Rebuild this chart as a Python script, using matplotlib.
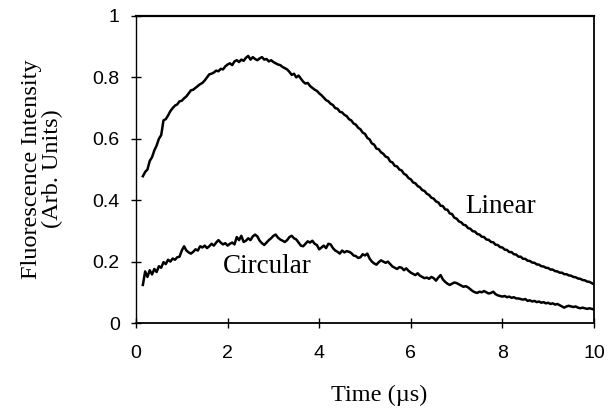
import numpy as np
import matplotlib
matplotlib.use("Agg")
import matplotlib.pyplot as plt

# Sampling grid (µs), 0.05 µs steps from 0.15 to 10.0
time_us = np.round(np.arange(0.15, 10.0001, 0.05), 2)

linear = [
    0.478, 0.492, 0.500, 0.528, 0.540, 0.562, 0.578, 0.600, 0.612, 0.660,
    0.664, 0.676, 0.690, 0.700, 0.708, 0.712, 0.722, 0.724, 0.732, 0.738,
    0.748, 0.758, 0.760, 0.766, 0.772, 0.778, 0.782, 0.790, 0.800, 0.810,
    0.812, 0.816, 0.822, 0.820, 0.828, 0.826, 0.836, 0.842, 0.846, 0.840,
    0.852, 0.856, 0.850, 0.858, 0.854, 0.864, 0.870, 0.858, 0.866, 0.860,
    0.856, 0.862, 0.866, 0.858, 0.860, 0.852, 0.856, 0.850, 0.846, 0.842,
    0.840, 0.834, 0.830, 0.826, 0.818, 0.808, 0.812, 0.800, 0.806, 0.796,
    0.786, 0.780, 0.782, 0.772, 0.766, 0.760, 0.756, 0.748, 0.742, 0.734,
    0.726, 0.722, 0.714, 0.710, 0.700, 0.698, 0.688, 0.686, 0.678, 0.674,
    0.664, 0.660, 0.650, 0.646, 0.636, 0.631, 0.620, 0.616, 0.603, 0.598,
    0.585, 0.581, 0.568, 0.566, 0.556, 0.551, 0.542, 0.539, 0.526, 0.523,
    0.512, 0.510, 0.500, 0.497, 0.486, 0.482, 0.472, 0.468, 0.458, 0.455,
    0.446, 0.442, 0.433, 0.430, 0.421, 0.417, 0.408, 0.405, 0.396, 0.393,
    0.382, 0.381, 0.370, 0.369, 0.357, 0.355, 0.343, 0.340, 0.331, 0.328,
    0.320, 0.318, 0.309, 0.307, 0.299, 0.298, 0.290, 0.288, 0.281, 0.280,
    0.272, 0.271, 0.264, 0.263, 0.255, 0.254, 0.247, 0.246, 0.239, 0.238,
    0.231, 0.231, 0.224, 0.223, 0.216, 0.216, 0.209, 0.209, 0.203, 0.202,
    0.197, 0.196, 0.191, 0.190, 0.185, 0.184, 0.180, 0.179, 0.174, 0.174,
    0.169, 0.168, 0.164, 0.164, 0.159, 0.159, 0.155, 0.154, 0.150, 0.149,
    0.145, 0.144, 0.140, 0.139, 0.135, 0.134, 0.130, 0.126,
]

circular = [
    0.124, 0.168, 0.150, 0.172, 0.158, 0.176, 0.166, 0.185, 0.180, 0.198,
    0.192, 0.206, 0.200, 0.210, 0.206, 0.214, 0.216, 0.236, 0.250, 0.236,
    0.230, 0.226, 0.232, 0.240, 0.236, 0.250, 0.246, 0.252, 0.244, 0.250,
    0.258, 0.252, 0.262, 0.270, 0.262, 0.256, 0.260, 0.252, 0.258, 0.262,
    0.256, 0.280, 0.270, 0.284, 0.264, 0.268, 0.276, 0.270, 0.282, 0.288,
    0.282, 0.268, 0.260, 0.254, 0.262, 0.270, 0.276, 0.284, 0.288, 0.278,
    0.272, 0.268, 0.264, 0.270, 0.280, 0.284, 0.276, 0.272, 0.262, 0.252,
    0.250, 0.258, 0.266, 0.262, 0.268, 0.258, 0.254, 0.240, 0.246, 0.252,
    0.244, 0.258, 0.256, 0.244, 0.236, 0.232, 0.226, 0.236, 0.230, 0.234,
    0.232, 0.228, 0.220, 0.218, 0.212, 0.214, 0.224, 0.220, 0.226, 0.210,
    0.200, 0.194, 0.190, 0.198, 0.204, 0.200, 0.196, 0.200, 0.192, 0.184,
    0.180, 0.176, 0.182, 0.180, 0.172, 0.178, 0.170, 0.164, 0.160, 0.156,
    0.162, 0.154, 0.150, 0.146, 0.148, 0.144, 0.150, 0.146, 0.138, 0.148,
    0.156, 0.142, 0.134, 0.128, 0.124, 0.128, 0.132, 0.130, 0.126, 0.122,
    0.118, 0.120, 0.116, 0.110, 0.104, 0.100, 0.098, 0.102, 0.100, 0.104,
    0.100, 0.096, 0.098, 0.102, 0.094, 0.090, 0.088, 0.086, 0.088, 0.084,
    0.086, 0.082, 0.084, 0.080, 0.080, 0.078, 0.076, 0.078, 0.072, 0.074,
    0.070, 0.072, 0.068, 0.070, 0.066, 0.068, 0.064, 0.066, 0.062, 0.064,
    0.060, 0.062, 0.058, 0.054, 0.050, 0.054, 0.056, 0.054, 0.052, 0.054,
    0.050, 0.048, 0.050, 0.048, 0.046, 0.048, 0.046, 0.044,
]

x_ticks = [0, 2, 4, 6, 8, 10]
x_tick_labels = ["0", "2", "4", "6", "8", "10"]
y_ticks = [0, 0.2, 0.4, 0.6, 0.8, 1.0]
y_tick_labels = ["0", "0.2", "0.4", "0.6", "0.8", "1"]

x_label = "Time (\u00b5s)"
y_label = "Fluorescence Intensity\n(Arb. Units)"
label_linear = "Linear"
label_circular = "Circular"

fig = plt.figure(figsize=(6.16, 4.11), dpi=100)
ax = fig.add_axes([136 / 616, 1 - 323 / 411, 458 / 616, 307 / 411])

ax.plot(time_us[:len(linear)], linear, color="black", lw=1.8)
ax.plot(time_us[:len(circular)], circular, color="black", lw=1.8)

ax.set_xlim(0, 10)
ax.set_ylim(0, 1)
ax.set_xticks(x_ticks)
ax.set_xticklabels(x_tick_labels, fontfamily="Liberation Sans", fontsize=14)
ax.set_yticks(y_ticks)
ax.set_yticklabels(y_tick_labels, fontfamily="Liberation Sans", fontsize=14)
ax.tick_params(axis="x", direction="inout", length=7.5, width=1.0, pad=12)
ax.tick_params(axis="y", direction="inout", length=7.5, width=1.0, pad=8)

for side, w in [("top", 1.6), ("left", 1.0), ("bottom", 1.3), ("right", 1.3)]:
    ax.spines[side].set_linewidth(w)

serif = "Liberation Serif"
ax.text(7.18, 0.379, label_linear, fontfamily=serif, fontsize=19.5,
        ha="left", va="center")
ax.text(1.89, 0.183, label_circular, fontfamily=serif, fontsize=19.5,
        ha="left", va="center")

fig.text(379 / 616, 1 - 395 / 411, x_label, fontfamily=serif, fontsize=17.5,
         ha="center", va="center")
fig.text(42 / 616, 1 - 169 / 411, y_label, fontfamily=serif, fontsize=17.5,
         ha="center", va="center", rotation=90, multialignment="center",
         linespacing=0.95)

fig.savefig("out.png", dpi=100)
